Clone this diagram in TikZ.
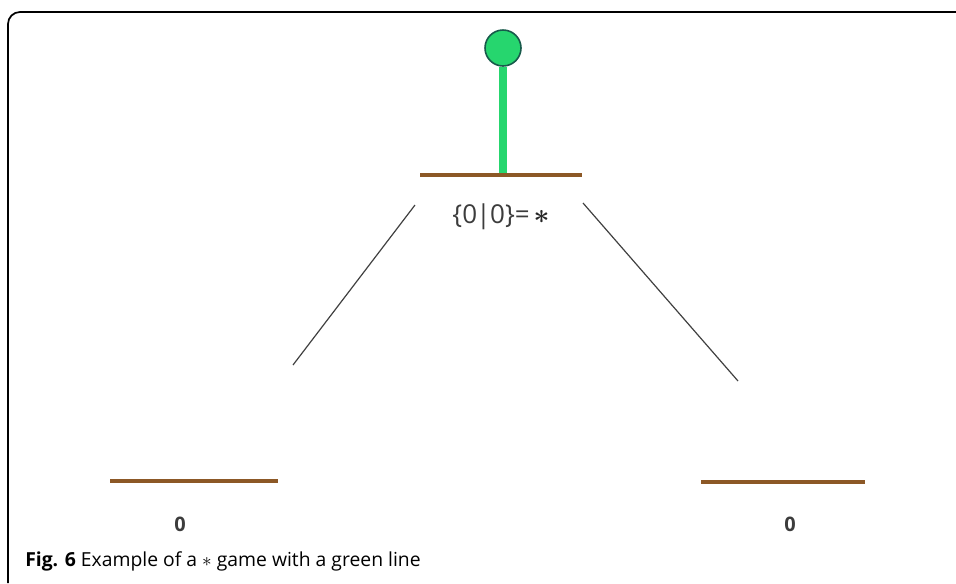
\documentclass[tikz,border=0pt]{standalone}
\usepackage{fontspec}
\setmainfont{Open Sans}
\definecolor{barbrown}{RGB}{140,88,38}
\definecolor{stemgreen}{RGB}{38,214,110}
\definecolor{balledge}{RGB}{24,90,75}
\definecolor{txtgrey}{RGB}{60,60,60}
\begin{document}
\begin{tikzpicture}[x=0.75pt,y=-0.75pt,
  bar/.style={fill=barbrown,draw=none,inner sep=0pt,minimum height=3.2pt,minimum width=#1},
  lbl/.style={text=txtgrey,inner sep=0pt,font=\fontsize{15}{17}\selectfont\bfseries},
  edge/.style={draw=black!75,line width=0.9pt}]
\useasboundingbox (0,0) rectangle (956,583);
% frame
\draw[line width=1.3pt,rounded corners=9pt] (8,583) -- (8,12) -- (956,12);
% bars
\node[bar=122pt] (top) at (501,175) {};
\node[bar=126pt] (bl) at (194,481) {};
\node[bar=123pt] (br) at (783,482) {};
% stem and ball
\node[circle,fill=stemgreen,draw=balledge,line width=1.2pt,minimum size=27pt,inner sep=0pt] (ball) at (503,48) {};
\coordinate (stemfoot) at (503,173);
\draw[stemgreen,line width=6pt] (ball.south) -- (stemfoot);
% labels
\node[text=txtgrey,inner sep=0pt,font=\fontsize{19.5}{22}\selectfont] (toplbl) at (501,217) {\{0\kern-0.5pt|\kern-0.5pt0\}=\kern3pt{\color{black!85}\boldmath$\ast$}};
\node[lbl] (bllbl) at (180,524) {0};
\node[lbl] (brlbl) at (790,524) {0};
% diagonals
\coordinate (l1) at (415,205); \coordinate (l2) at (293,365);
\coordinate (r1) at (583,203); \coordinate (r2) at (738,381);
\draw[edge] (l1) -- (l2);
\draw[edge] (r1) -- (r2);
% caption
\node[anchor=base west,inner sep=0pt,font=\fontsize{14.5}{16}\selectfont] (cap) at (25,566)
  {\textbf{Fig. 6} Example of a $\ast$ game with a green line};
\end{tikzpicture}
\end{document}
